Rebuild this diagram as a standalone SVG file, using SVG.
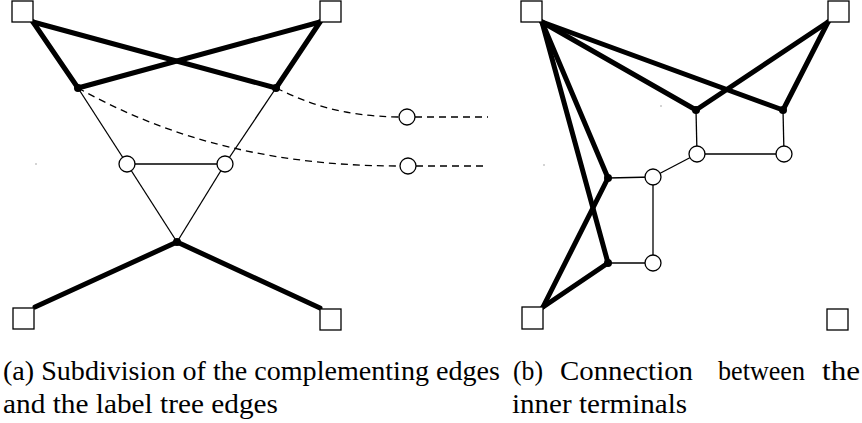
<svg xmlns="http://www.w3.org/2000/svg" width="862" height="423" viewBox="0 0 862 423">
<style>
.term{fill:#fff;stroke:#000;stroke-width:1.3}
.thick{stroke:#000;stroke-width:5;stroke-linecap:round;fill:none}
.thin{stroke:#000;stroke-width:1.3;fill:none}
.dash{stroke:#000;stroke-width:1.3;fill:none;stroke-dasharray:7 5}
.dot{fill:#000}
.circ{fill:#fff;stroke:#000;stroke-width:1.3}
.speck{fill:#888}
.cap{font-family:"Liberation Serif","DejaVu Serif",serif;font-size:27px;fill:#000}
</style>
<g id="connectors">
  <line class="thick" x1="33" y1="22" x2="78" y2="88"/>
  <line class="thick" x1="33" y1="22" x2="276" y2="88"/>
  <line class="thick" x1="320" y1="22" x2="78" y2="88"/>
  <line class="thick" x1="320" y1="22" x2="276" y2="88"/>
  <line class="thick" x1="177" y1="242" x2="35" y2="307"/>
  <line class="thick" x1="177" y1="242" x2="320" y2="308"/>
  <line class="thin" x1="78" y1="88" x2="127" y2="164"/>
  <line class="thin" x1="276" y1="88" x2="225" y2="164"/>
  <line class="thin" x1="127" y1="164" x2="225" y2="164"/>
  <line class="thin" x1="127" y1="164" x2="177" y2="242"/>
  <line class="thin" x1="225" y1="164" x2="177" y2="242"/>
  <path class="dash" d="M78,88 C150,128 250,166 399,166"/>
  <path class="dash" d="M276,88 C310,104 340,116 399,117"/>
  <line class="dash" x1="415" y1="117" x2="488" y2="117"/>
  <line class="dash" x1="416" y1="166" x2="488" y2="166"/>
  <line class="thick" x1="542" y1="22" x2="696" y2="110"/>
  <line class="thick" x1="542" y1="22" x2="783" y2="110"/>
  <line class="thick" x1="542" y1="22" x2="608" y2="178"/>
  <line class="thick" x1="542" y1="22" x2="608" y2="263"/>
  <line class="thick" x1="828" y1="22" x2="696" y2="110"/>
  <line class="thick" x1="828" y1="22" x2="783" y2="110"/>
  <line class="thick" x1="543" y1="307" x2="608" y2="178"/>
  <line class="thick" x1="543" y1="307" x2="608" y2="263"/>
  <line class="thin" x1="696" y1="110" x2="697" y2="154"/>
  <line class="thin" x1="783" y1="110" x2="784" y2="154"/>
  <line class="thin" x1="697" y1="154" x2="784" y2="154"/>
  <line class="thin" x1="697" y1="154" x2="653" y2="177"/>
  <line class="thin" x1="608" y1="178" x2="653" y2="177"/>
  <line class="thin" x1="653" y1="177" x2="653" y2="263"/>
  <line class="thin" x1="608" y1="263" x2="653" y2="263"/>
</g>
<g id="a-t1"><rect class="term" x="12" y="1" width="21" height="21"/></g>
<g id="a-t2"><rect class="term" x="320" y="1" width="21" height="21"/></g>
<g id="a-t3"><rect class="term" x="13" y="308" width="21" height="21"/></g>
<g id="a-t4"><rect class="term" x="320" y="309" width="21" height="21"/></g>
<g id="a-d1"><circle class="dot" cx="78" cy="88" r="4"/></g>
<g id="a-d2"><circle class="dot" cx="276" cy="88" r="4"/></g>
<g id="a-d3"><circle class="dot" cx="177" cy="242" r="4"/></g>
<g id="a-c1"><circle class="circ" cx="127" cy="164" r="8"/></g>
<g id="a-c2"><circle class="circ" cx="225" cy="164" r="8"/></g>
<g id="a-c3"><circle class="circ" cx="407" cy="117" r="8"/></g>
<g id="a-c4"><circle class="circ" cx="408" cy="166" r="8"/></g>
<g id="b-t1"><rect class="term" x="521" y="1" width="21" height="21"/></g>
<g id="b-t2"><rect class="term" x="828" y="1" width="21" height="21"/></g>
<g id="b-t3"><rect class="term" x="522" y="307" width="21" height="22"/></g>
<g id="b-t4"><rect class="term" x="827" y="309" width="21" height="21"/></g>
<g id="b-d1"><circle class="dot" cx="696" cy="110" r="4"/></g>
<g id="b-d2"><circle class="dot" cx="783" cy="110" r="4"/></g>
<g id="b-d3"><circle class="dot" cx="608" cy="178" r="4"/></g>
<g id="b-d4"><circle class="dot" cx="608" cy="263" r="4"/></g>
<g id="b-c1"><circle class="circ" cx="697" cy="154" r="8"/></g>
<g id="b-c2"><circle class="circ" cx="784" cy="154" r="8"/></g>
<g id="b-c3"><circle class="circ" cx="653" cy="177" r="8"/></g>
<g id="b-c4"><circle class="circ" cx="653" cy="263" r="8"/></g>
<g id="specks">
  <circle class="speck" cx="36" cy="164" r="0.7"/>
  <circle class="speck" cx="661" cy="106" r="0.7"/>
  <circle class="speck" cx="544" cy="165" r="0.7"/>
</g>
<g id="captions">
  <text class="cap" x="3" y="380" textLength="497" lengthAdjust="spacingAndGlyphs">(a) Subdivision of the complementing edges</text>
  <text class="cap" x="3" y="413" textLength="275" lengthAdjust="spacingAndGlyphs">and the label tree edges</text>
  <text class="cap" x="513" y="380" textLength="30" lengthAdjust="spacingAndGlyphs">(b)</text>
  <text class="cap" x="560" y="380" textLength="133" lengthAdjust="spacingAndGlyphs">Connection</text>
  <text class="cap" x="718" y="380" textLength="87" lengthAdjust="spacingAndGlyphs">between</text>
  <text class="cap" x="822" y="380" textLength="38" lengthAdjust="spacingAndGlyphs">the</text>
  <text class="cap" x="512" y="413" textLength="175" lengthAdjust="spacingAndGlyphs">inner terminals</text>
</g>
</svg>
